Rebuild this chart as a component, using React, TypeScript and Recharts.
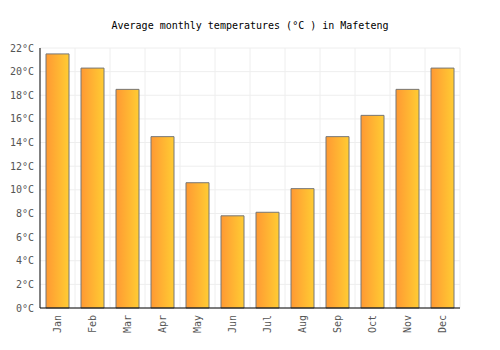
import React from "react";
import {
  BarChart,
  Bar,
  XAxis,
  YAxis,
  CartesianGrid,
} from "recharts";

const months = ["Jan", "Feb", "Mar", "Apr", "May", "Jun", "Jul", "Aug", "Sep", "Oct", "Nov", "Dec"];
const temps = [21.5, 20.3, 18.5, 14.5, 10.6, 7.8, 8.1, 10.1, 14.5, 16.3, 18.5, 20.3];
const yTicks = [0, 2, 4, 6, 8, 10, 12, 14, 16, 18, 20, 22];

const data = months.map((m, i) => ({ month: m, temp: temps[i] }));

const FONT = "'DejaVu Sans Mono', monospace";

const MonthTick = (props: any) => {
  const { x, y, payload } = props;
  return (
    <text
      transform={`translate(${x},${y}) rotate(-90)`}
      textAnchor="end"
      dy="0.35em"
      fill="#555"
      fontSize={10}
      fontFamily={FONT}
    >
      {payload.value}
    </text>
  );
};

const App: React.FC = () => {
  return (
    <div style={{ position: "absolute", left: 0, top: 0, width: 500, height: 350, background: "#fff" }}>
      <div
        style={{
          position: "absolute",
          top: 20,
          left: 0,
          width: 500,
          textAlign: "center",
          fontFamily: FONT,
          fontSize: 10,
          color: "#000",
        }}
      >
        Average monthly temperatures (°C ) in Mafeteng
      </div>
      <BarChart
        width={500}
        height={350}
        data={data}
        margin={{ top: 48, right: 40, left: 0, bottom: 0 }}
      >
        <defs>
          <linearGradient id="barGrad" x1="0" y1="0" x2="1" y2="0">
            <stop offset="0%" stopColor="#FF9933" />
            <stop offset="100%" stopColor="#FFCC33" />
          </linearGradient>
        </defs>
        <CartesianGrid
          stroke="#eeeeee"
          verticalCoordinatesGenerator={({ offset }: any) =>
            months.map((_, i) => offset.left + ((i + 1) * offset.width) / months.length)
          }
        />
        <XAxis
          dataKey="month"
          height={42}
          axisLine={{ stroke: "#000" }}
          tickLine={false}
          tickSize={0}
          tickMargin={7}
          interval={0}
          tick={<MonthTick />}
        />
        <YAxis
          width={40}
          domain={[0, 22]}
          ticks={yTicks}
          interval={0}
          axisLine={{ stroke: "#000" }}
          tickLine={false}
          tickSize={0}
          tickMargin={6}
          tickFormatter={(v: number) => `${v}°C`}
          tick={{ fill: "#555", fontSize: 10, fontFamily: FONT }}
        />
        <Bar
          dataKey="temp"
          fill="url(#barGrad)"
          stroke="#777"
          strokeWidth={1}
          barSize={23}
          isAnimationActive={false}
        />
      </BarChart>
    </div>
  );
};

export default App;
